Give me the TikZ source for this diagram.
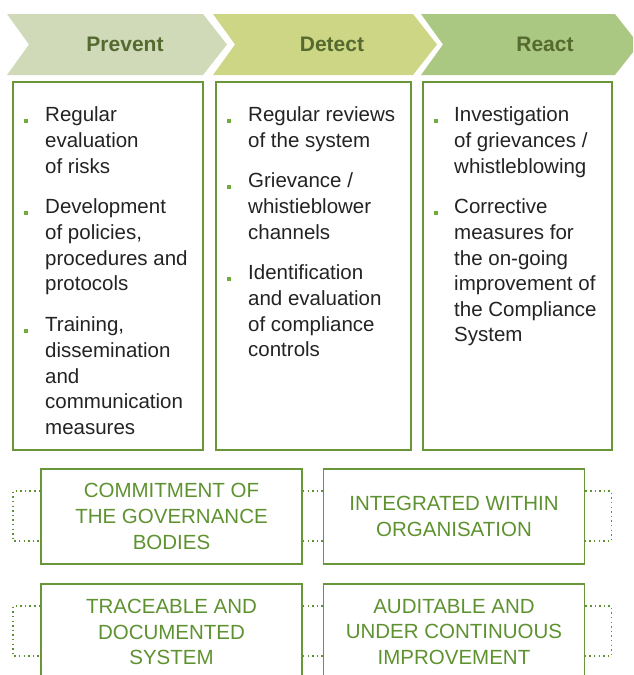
\documentclass[tikz,border=0pt]{standalone}
\usepackage{fontspec}
\setmainfont{Liberation Sans}
\usepackage{xcolor}
\usepackage{tikz}
\usetikzlibrary{positioning}
\definecolor{boxgreen}{RGB}{104, 150, 56}
\definecolor{capgreen}{RGB}{94, 146, 48}
\definecolor{headgreen}{RGB}{84, 106, 46}
\definecolor{bulletgreen}{RGB}{110, 172, 60}
\definecolor{bodygray}{RGB}{35, 35, 35}
\definecolor{prevfill}{RGB}{208, 218, 185}
\definecolor{detfill}{RGB}{205, 214, 132}
\definecolor{reactfill}{RGB}{170, 200, 130}

\begin{document}
\begin{tikzpicture}[x=1pt, y=-1pt,
    stagebox/.style={draw=boxgreen, line width=1.8pt},
    itemtext/.style={anchor=north west, inner sep=0pt, align=left, text=bodygray,
        font=\fontsize{20.5}{25.6}\selectfont, execute at begin node=\strut},
    bullet/.style={fill=bulletgreen, inner sep=0pt, minimum size=3.6pt},
    pillar/.style={draw=boxgreen, line width=1.8pt, minimum width=261pt, align=center,
        text=capgreen, font=\fontsize{20.5}{25.6}\selectfont},
    dots/.style={capgreen, line width=1.5pt, dash pattern=on 1.5pt off 3.1pt}]
\useasboundingbox (0,0) rectangle (633,675);
\clip (0,0) rectangle (633,675);
% Chevrons with stage names
\foreach \l/\r/\col/\name/\txt/\cx in {7/203/prevfill/prevent/Prevent/125,
    213/413/detfill/detect/Detect/332, 421/615/reactfill/react/React/545} {
    \fill[\col] (\l,14) -- (\r,14) -- (\r+24,44.5) -- (\r,75) -- (\l,75) -- (\l+22,44.5) -- cycle;
    \node[font=\fontsize{21}{24}\selectfont\bfseries, text=headgreen] (\name) at (\cx,44.5) {\txt};
}
% Stage boxes
\draw[stagebox] (13,82) rectangle (203,450);
\draw[stagebox] (216,82) rectangle (411,450);
\draw[stagebox] (423,82) rectangle (612,450);
% Prevent items
\node[itemtext] (p1) at (45,106.8) {Regular\\evaluation\\of risks};
\node[itemtext] (p2) at (45,198.8) {Development\\of policies,\\procedures and\\protocols};
\node[itemtext] (p3) at (45,316.8) {Training,\\dissemination\\and\\communication\\measures};
% Detect items
\node[itemtext] (d1) at (248,106.8) {Regular reviews\\of the system};
\node[itemtext] (d2) at (248,172.8) {Grievance /\\whistieblower\\channels};
\node[itemtext] (d3) at (248,264.8) {Identification\\and evaluation\\of compliance\\controls};
% React items
\node[itemtext] (r1) at (454,106.8) {Investigation\\of grievances /\\whistleblowing};
\node[itemtext] (r2) at (454,198.8) {Corrective\\measures for\\the on-going\\improvement of\\the Compliance\\System};
% Bullets
\foreach \it/\bx in {p1/26, p2/26, p3/26, d1/229, d2/229, d3/229, r1/436, r2/436} {
    \node[bullet] (b\it) at (\bx,0 |- \it.north) [yshift=-14.2pt] {};
}
% Pillars
\node[pillar, minimum height=95pt] (commit) at (171.5,516.5) {COMMITMENT OF\\THE GOVERNANCE\\BODIES};
\node[pillar, minimum height=95pt] (integr) at (454,516.5) {INTEGRATED WITHIN\\ORGANISATION};
\node[pillar, minimum height=96pt] (trace) at (171.5,632) {TRACEABLE AND\\DOCUMENTED\\SYSTEM};
\node[pillar, minimum height=96pt] (audit) at (454,632) {AUDITABLE AND\\UNDER CONTINUOUS\\IMPROVEMENT};
% Dotted links
\foreach \a/\b in {commit/integr, trace/audit} {
    \draw[dots] ([yshift=-23pt]\a.north west) -- ++(-27,0) -- ++(0,50) -- ++(27,0);
    \draw[dots] ([yshift=-23pt]\a.north east) -- ([yshift=-23pt]\b.north west);
    \draw[dots] ([yshift=-73pt]\a.north east) -- ([yshift=-73pt]\b.north west);
    \draw[dots] ([yshift=-23pt]\b.north east) -- ++(26,0) -- ++(0,50) -- ++(-26,0);
}
\end{tikzpicture}
\end{document}
